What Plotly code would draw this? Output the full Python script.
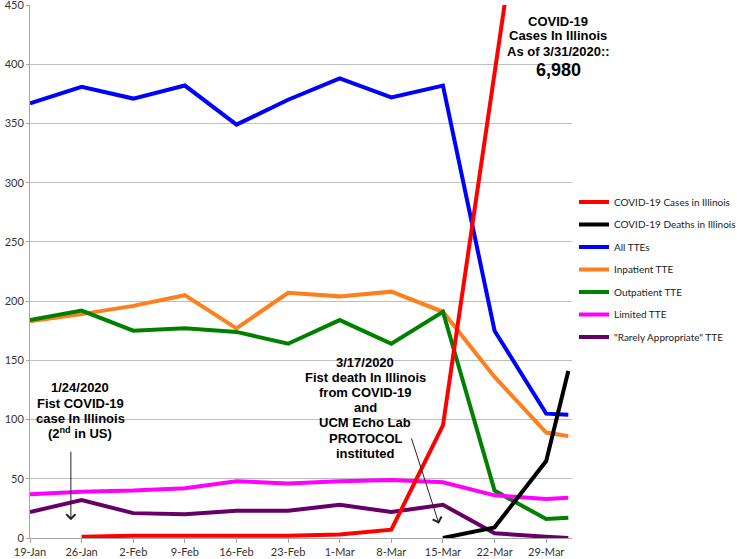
import plotly.graph_objects as go

# ---- data ----
dates = ['2020-01-19', '2020-01-26', '2020-02-02', '2020-02-09', '2020-02-16', '2020-02-23',
         '2020-03-01', '2020-03-08', '2020-03-15', '2020-03-22', '2020-03-29', '2020-04-01']
tick_labels = ['19-Jan', '26-Jan', '2-Feb', '9-Feb', '16-Feb', '23-Feb',
               '1-Mar', '8-Mar', '15-Mar', '22-Mar', '29-Mar']

covid_cases = [None, 1, 2, 2, 2, 2, 3, 7, 95, 390, 690, 6980]
covid_deaths = [None, None, None, None, None, None, None, None, 0, 9, 65, 141]
all_ttes = [367, 381, 371, 382, 349, 370, 388, 372, 382, 175, 105, 104]
inpatient_tte = [183, 189, 196, 205, 177, 207, 204, 208, 191, 136, 89, 86]
outpatient_tte = [184, 192, 175, 177, 174, 164, 184, 164, 191, 40, 16, 17]
limited_tte = [37, 39, 40, 42, 48, 46, 48, 49, 47, 36, 33, 34]
rarely_tte = [22, 32, 21, 20, 23, 23, 28, 22, 28, 4, 1, 0]

series = [
    # name, values, colour, legend rank
    ('All TTEs', all_ttes, '#0000FF', 3),
    ('Inpatient TTE', inpatient_tte, '#FF7F1E', 4),
    ('Outpatient TTE', outpatient_tte, '#008000', 5),
    ('Limited TTE', limited_tte, '#FF00FF', 6),
    ('"Rarely Appropriate" TTE', rarely_tte, '#660066', 7),
    ('COVID-19 Cases in Illinois', covid_cases, '#FF0000', 1),
    ('COVID-19 Deaths in Illinois', covid_deaths, '#000000', 2),
]

fig = go.Figure()
for name, vals, col, rank in series:
    fig.add_trace(go.Scatter(
        x=dates, y=vals, name=name, mode='lines',
        line=dict(color=col, width=4), legendrank=rank, legendgroup=name,
        connectgaps=False,
    ))

# ---- layout geometry (pixels) ----
L, R, T, B = 30, 572, 5, 538
W, H = 737, 559


def px_x(px):
    return (px - L) / (R - L)


def px_y(py):
    return (B - py) / (B - T)


tick_font = dict(family='Lato, Liberation Sans, Arial', size=11, color='#333333')

fig.update_layout(
    width=W, height=H, autosize=False,
    margin=dict(l=L, r=W - R, t=T, b=H - B, autoexpand=False),
    paper_bgcolor='white', plot_bgcolor='white',
    showlegend=True,
    legend=dict(
        x=px_x(574), y=px_y(187.5), xanchor='left', yanchor='top',
        font=dict(family='Lato, Liberation Sans, Arial', size=10, color='#222222'),
        traceorder='grouped', tracegroupgap=3.5,
        bgcolor='rgba(0,0,0,0)', borderwidth=0,
    ),
    xaxis=dict(
        type='date', range=['2020-01-19', '2020-04-01 12:00'],
        tickvals=dates[:len(tick_labels)], ticktext=tick_labels,
        showgrid=False, zeroline=False,
        showline=True, linecolor='#A6A6A6', linewidth=1,
        ticks='outside', ticklen=4, tickcolor='#A6A6A6',
        tickfont=tick_font, ticklabeloverflow='allow',
    ),
    yaxis=dict(
        range=[0, 450], tickvals=[0, 50, 100, 150, 200, 250, 300, 350, 400, 450],
        showgrid=True, gridcolor='#BEBEBE', gridwidth=1, zeroline=False,
        showline=True, linecolor='#A6A6A6', linewidth=1,
        ticks='outside', ticklen=3, tickcolor='#A6A6A6',
        tickfont=tick_font, ticklabeloverflow='allow',
    ),
)


def text_lines(lines, cx, ys, size=13):
    for txt, y in zip(lines, ys):
        fig.add_annotation(
            xref='paper', yref='paper', x=px_x(cx), y=px_y(y),
            text='<b>' + txt + '</b>', showarrow=False,
            xanchor='center', yanchor='middle',
            font=dict(family='Liberation Sans, Arial', size=size, color='#000000'),
        )


text_lines(['1/24/2020', 'Fist COVID-19', 'case In Illinois', '(2<sup>nd</sup> in US)'],
           80, [387, 403, 418, 433])
text_lines(['3/17/2020', 'Fist death In Illinois', 'from COVID-19', 'and',
            'UCM Echo Lab', 'PROTOCOL', 'instituted'],
           365, [362.7, 377.7, 392.7, 407.7, 422.7, 438.3, 453.3])
text_lines(['COVID-19', 'Cases In Illinois', 'As of 3/31/2020::'],
           558, [21.5, 36, 51.5])
text_lines(['6,980'], 558, [70], size=18)

# arrows
fig.add_annotation(
    x='2020-01-24 13:00', y=15, xref='x', yref='y', text='',
    showarrow=True, ax=0, ay=-70, arrowhead=4, arrowsize=1.8, arrowwidth=1,
    arrowcolor='#222222',
)
fig.add_annotation(
    x='2020-03-14 11:00', y=12, xref='x', yref='y', text='',
    showarrow=True, ax=-28, ay=-87, arrowhead=4, arrowsize=1.8, arrowwidth=1,
    arrowcolor='#222222',
)

fig.write_html(
    'out.html',
    config={'displayModeBar': False},
    post_script="document.body.style.margin='0';document.body.style.padding='0';",
)
